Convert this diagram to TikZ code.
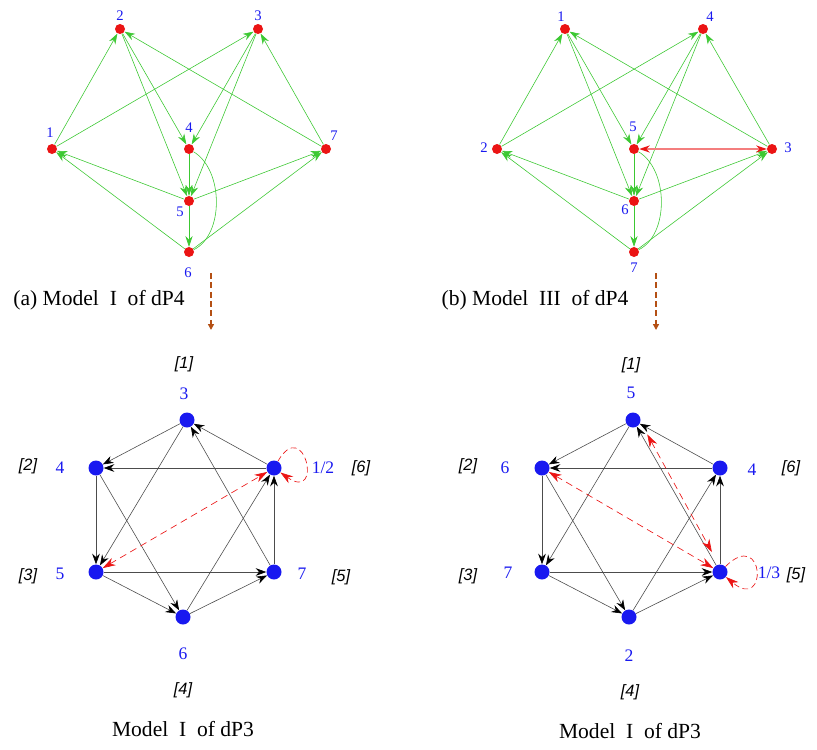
\documentclass[tikz,border=0pt]{standalone}
\usepackage{fontspec}
\setmainfont{Liberation Serif}
\newfontfamily\bracketfont{Liberation Sans}
\usepackage{tikz}
\usetikzlibrary{arrows.meta}
\definecolor{qgreen}{RGB}{60,200,50}
\definecolor{qred}{RGB}{235,20,20}
\definecolor{qblue}{RGB}{25,25,240}
\definecolor{mapBrown}{RGB}{180,80,20}

\begin{document}
\begin{tikzpicture}[x=0.03cm, y=-0.03cm, >=Stealth,
    rdot/.style={circle, fill=qred, inner sep=0pt, minimum size=0.3cm},
    bdot/.style={circle, fill=qblue, inner sep=0pt, minimum size=0.45cm},
    garrow/.style={draw=qgreen, line width=0.5pt, -{Stealth[length=9pt, width=6pt]}},
    gline/.style={draw=qgreen, line width=0.5pt},
    rarrow/.style={color=qred!55, line width=1pt,
      {Stealth[length=9pt, width=6pt, color=qred]}-{Stealth[length=9pt, width=6pt, color=qred]}},
    karrow/.style={draw=black!70, line width=0.5pt, -{Stealth[length=9pt, width=6.5pt, color=black]}},
    rdash/.style={draw=qred, line width=0.55pt, dash pattern=on 6pt off 4pt,
      {Stealth[length=11pt, width=7pt, inset=3.5pt]}-{Stealth[length=11pt, width=7pt, inset=3.5pt]}},
    rloop/.style={draw=qred, line width=0.55pt, dash pattern=on 5pt off 3pt,
      -{Stealth[length=11pt, width=7pt, inset=3.5pt]}},
    qlbl/.style={text=qblue, font=\fontsize{12.5}{14}\selectfont, inner sep=0pt},
    hlbl/.style={text=qblue, font=\fontsize{15}{17}\selectfont, inner sep=0pt},
    blbl/.style={font=\bracketfont\itshape\fontsize{14}{16}\selectfont, inner sep=0pt},
    capt/.style={font=\fontsize{18.4}{21}\selectfont, inner sep=0pt},
    maparrow/.style={draw=mapBrown, line width=1.2pt, dash pattern=on 5pt off 3pt,
      -{Triangle[length=5pt, width=5pt]}}]
  \useasboundingbox (0,0) rectangle (817,749);

  % (a) quiver
  \foreach \n/\x/\y in {1/52/149, 2/120/29, 3/258/29, 4/189/149, 5/189/201, 6/189/252, 7/326/149}
    \node[rdot] (a\n) at (\x,\y) {};
  \foreach \s/\t in {1/2, 1/3, 2/4, 2/5, 3/4, 3/5, 7/2, 7/3, 5/1, 6/1, 5/7, 6/7, 4/5, 5/6}
    \draw[garrow] (a\s) -- (a\t);
  \draw[gline] (a4) .. controls (224,170) and (224,235) .. (a6);
  \foreach \n/\x/\y in {1/50/133, 2/120/16, 3/258/16, 4/189/128, 5/180/212, 6/188/273, 7/334/136}
    \node[qlbl] (la\n) at (\x,\y) {\n};

  % (b) quiver
  \foreach \n/\x/\y in {1/565/29, 2/497/149, 3/772/149, 4/703/29, 5/634/149, 6/634/201, 7/634/252}
    \node[rdot] (b\n) at (\x,\y) {};
  \foreach \s/\t in {2/1, 2/4, 3/1, 3/4, 1/5, 1/6, 4/5, 4/6, 6/2, 7/2, 6/3, 7/3, 5/6, 6/7}
    \draw[garrow] (b\s) -- (b\t);
  \draw[rarrow] (b3) -- (b5);
  \draw[gline] (b5) .. controls (669,170) and (669,235) .. (b7);
  \foreach \n/\x/\y in {1/561/17, 2/484/148, 3/788/148, 4/710/17, 5/633/127, 6/625/210, 7/634/268}
    \node[qlbl] (lb\n) at (\x,\y) {\n};

  \node[capt] (capa) at (99,300) {(a) Model~~I~~of dP4};
  \node[capt] (capb) at (535,300) {(b) Model~~III~~of dP4};
  \coordinate (ma1) at (211,273);
  \coordinate (ma2) at (211,330);
  \coordinate (mb1) at (656,273);
  \coordinate (mb2) at (656,330);
  \draw[maparrow] (ma1) -- (ma2);
  \draw[maparrow] (mb1) -- (mb2);

  % dP3, left
  \foreach \n/\x/\y in {3/187/420, 4/96/468, 12/274/468, 5/96/572, 7/274/572, 6/183/617}
    \node[bdot] (hl\n) at (\x,\y) {};
  \foreach \s/\t in {3/4, 12/3, 12/4, 4/5, 4/6, 3/5, 7/3, 5/7, 5/6, 6/7, 6/12, 7/12}
    \draw[karrow] (hl\s) -- (hl\t);
  \draw[rdash] (hl5) -- (hl12);
  \draw[rloop] (hl12) .. controls +(60:52pt) and +(-35:52pt) .. (hl12);
  \foreach \n/\x/\y in {3/184/394, 4/60/468, 5/60/574, 7/302/574, 6/183/654}
    \node[hlbl] (tl\n) at (\x,\y) {\n};
  \node[hlbl] (tl12) at (323,468) {1/2};
  \foreach \n/\x/\y in {1/184/364, 2/28/466, 6/361/468, 3/28/576, 5/341/577, 4/183/690}
    \node[blbl] (bl\n) at (\x,\y) {[\n]};

  % dP3, right
  \foreach \n/\x/\y in {5/633/420, 6/542/468, 4/720/468, 7/542/572, 13/720/572, 2/629/617}
    \node[bdot] (hr\n) at (\x,\y) {};
  \foreach \s/\t in {5/6, 4/5, 4/6, 6/7, 6/2, 5/7, 13/5, 7/13, 7/2, 2/13, 2/4, 13/4}
    \draw[karrow] (hr\s) -- (hr\t);
  \draw[rdash] (hr6) -- (hr13);
  \draw[rdash, shorten <=12pt, shorten >=12pt] (hr5.-15) -- (hr13.100);
  \draw[rloop] (hr13) .. controls +(45:54pt) and +(-40:54pt) .. (hr13);
  \foreach \n/\x/\y in {5/631/393, 6/505/468, 4/752/470, 7/508/573, 2/629/656}
    \node[hlbl] (tr\n) at (\x,\y) {\n};
  \node[hlbl] (tr13) at (769,573) {1/3};
  \foreach \n/\x/\y in {1/631/365, 2/468/466, 6/791/468, 3/468/576, 5/796/575, 4/630/692}
    \node[blbl] (br\n) at (\x,\y) {[\n]};

  \node[capt] (capc) at (183,729) {Model~~I~~of dP3};
  \node[capt] (capd) at (630,731) {Model~~I~~of dP3};
\end{tikzpicture}
\end{document}
